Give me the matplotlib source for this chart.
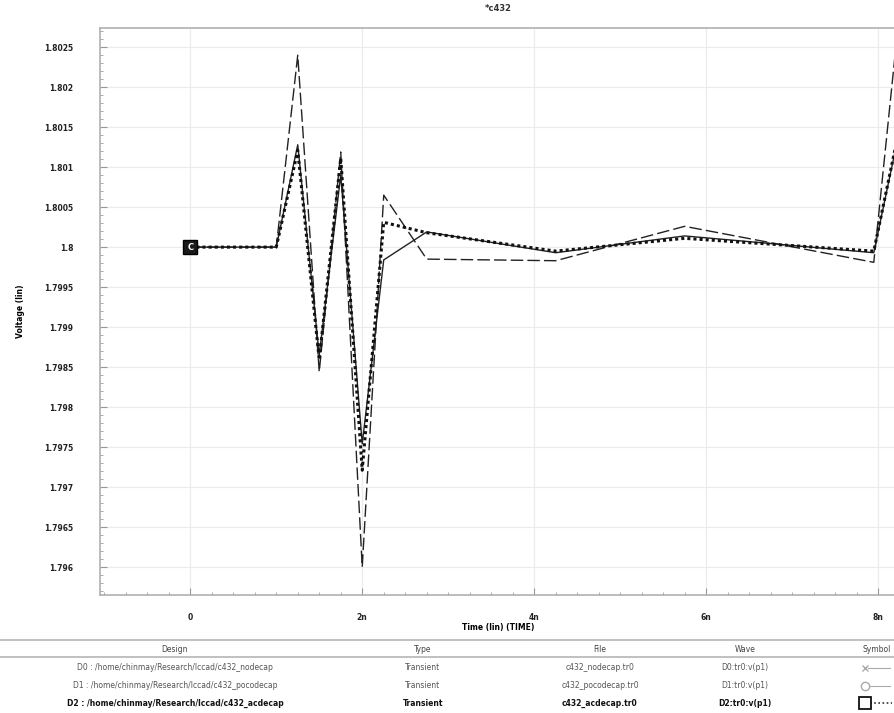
from matplotlib import pyplot as plt
from matplotlib.lines import Line2D
from matplotlib.ticker import FuncFormatter, MultipleLocator
import numpy

# time points in ns
time_ns = [0, 1.0, 1.25, 1.5, 1.75, 2.0, 2.25, 2.75, 4.25, 5.75, 7.95, 8.2]

# v(p1) for the three designs
v_nodecap = [1.8, 1.8, 1.8024, 1.79844, 1.80119, 1.7960, 1.80065, 1.79985,
             1.79983, 1.80026, 1.79981, 1.80243]
v_pocodecap = [1.8, 1.8, 1.80128, 1.79865, 1.80090, 1.79754, 1.79984, 1.80019,
               1.79993, 1.80014, 1.79993, 1.80121]
v_acdecap = [1.8, 1.8, 1.80121, 1.79859, 1.80111, 1.79721, 1.80031, 1.80018,
             1.79995, 1.80011, 1.79995, 1.80124]

x_ticks = [0, 2, 4, 6, 8]
x_labels = ['0', '2n', '4n', '6n', '8n']

designs = ['D0 : /home/chinmay/Research/lccad/c432_nodecap',
           'D1 : /home/chinmay/Research/lccad/c432_pocodecap',
           'D2 : /home/chinmay/Research/lccad/c432_acdecap']
types = ['Transient', 'Transient', 'Transient']
files = ['c432_nodecap.tr0', 'c432_pocodecap.tr0', 'c432_acdecap.tr0']
waves = ['D0:tr0:v(p1)', 'D1:tr0:v(p1)', 'D2:tr0:v(p1)']

W, H = 895, 713
fig = plt.figure(figsize=(W / 100, H / 100), dpi=100)
fig.patch.set_facecolor('white')

# axes box in pixel units
left, right, top, bottom = 100, 897, 28, 595
ax = fig.add_axes([left / W, 1 - bottom / H, (right - left) / W, (bottom - top) / H])

ax.plot(time_ns, v_nodecap, color='#222222', lw=1.0, ls=(0, (9, 3)))
ax.plot(time_ns, v_pocodecap, color='#222222', lw=1.0, ls='-')
ax.plot(time_ns, v_acdecap, color='#111111', lw=2.2, ls=(0, (1, 1)))
ax.plot(time_ns[0], v_acdecap[0], marker='s', ms=10, mfc='#1a1a1a', mec='black',
        ls='none', zorder=5)
ax.text(time_ns[0], v_acdecap[0], 'C', color='white', fontsize=6, ha='center',
        va='center', zorder=6, fontweight='bold')

ax.set_xlim(-1.05, 8.22)
ax.set_ylim(1.79565, 1.80274)
ax.set_xticks(x_ticks)
ax.set_xticklabels(x_labels)
ax.xaxis.set_minor_locator(MultipleLocator(0.25))
ax.set_yticks(numpy.arange(1.796, 1.80251, 0.0005))
ax.yaxis.set_minor_locator(MultipleLocator(0.0001))
ax.yaxis.set_major_formatter(FuncFormatter(lambda v, p: '%g' % round(v, 4)))

ax.grid(True, which='major', color='#ebebeb', lw=0.8)
for s in ax.spines.values():
    s.set_color('#b0b0b0')
    s.set_linewidth(1.2)
ax.tick_params(which='both', direction='in', color='#999999', labelsize=5.5,
               labelcolor='#222222')
ax.tick_params(which='major', length=5)
ax.tick_params(axis='y', which='major', pad=19)
ax.tick_params(axis='x', which='major', pad=13)
ax.tick_params(which='minor', length=2.5)
for lb in ax.get_xticklabels() + ax.get_yticklabels():
    lb.set_fontweight('bold')

ax.set_title('*c432', fontsize=6, fontweight='bold', pad=12, color='#333333')
ax.set_xlabel('Time (lin) (TIME)', fontsize=5.5, fontweight='bold', labelpad=1)
ax.set_ylabel('Voltage (lin)', fontsize=5.5, fontweight='bold', labelpad=14)

# legend table below the axes
def fy(y):
    return 1 - y / H

for yl in (640, 657):
    fig.add_artist(Line2D([0, 1], [fy(yl), fy(yl)], color='#b5b5b5', lw=1.2))

col_x = [175, 423, 600, 745, 877]
headers = ['Design', 'Type', 'File', 'Wave', 'Symbol']
for cx, hd in zip(col_x, headers):
    fig.text(cx / W, fy(649), hd, fontsize=5.5, ha='center', va='center',
             color='#444444')

row_y = [668, 686, 703]
for i in range(3):
    col = '#555555' if i < 2 else '#111111'
    wt = 'normal' if i < 2 else 'bold'
    for cx, txt in zip(col_x[:4], [designs[i], types[i], files[i], waves[i]]):
        fig.text(cx / W, fy(row_y[i]), txt, fontsize=5.5, ha='center',
                 va='center', color=col, fontweight=wt)

# symbol column
fig.add_artist(Line2D([868 / W, 890 / W], [fy(668), fy(668)], color='#aaaaaa', lw=0.8))
fig.add_artist(Line2D([865 / W], [fy(668)], marker='x', ms=5, color='#aaaaaa'))
fig.add_artist(Line2D([868 / W, 890 / W], [fy(686), fy(686)], color='#aaaaaa', lw=0.8))
fig.add_artist(Line2D([865 / W], [fy(686)], marker='o', ms=6, mfc='white', color='#aaaaaa'))
fig.add_artist(Line2D([870 / W, 892 / W], [fy(703), fy(703)], color='#333333', lw=1.2,
                      ls=(0, (1, 1.5))))
fig.add_artist(Line2D([865 / W], [fy(703)], marker='s', ms=8, mfc='white', mec='#111111',
                      mew=1.3))

fig.savefig('out.png', dpi=100)
